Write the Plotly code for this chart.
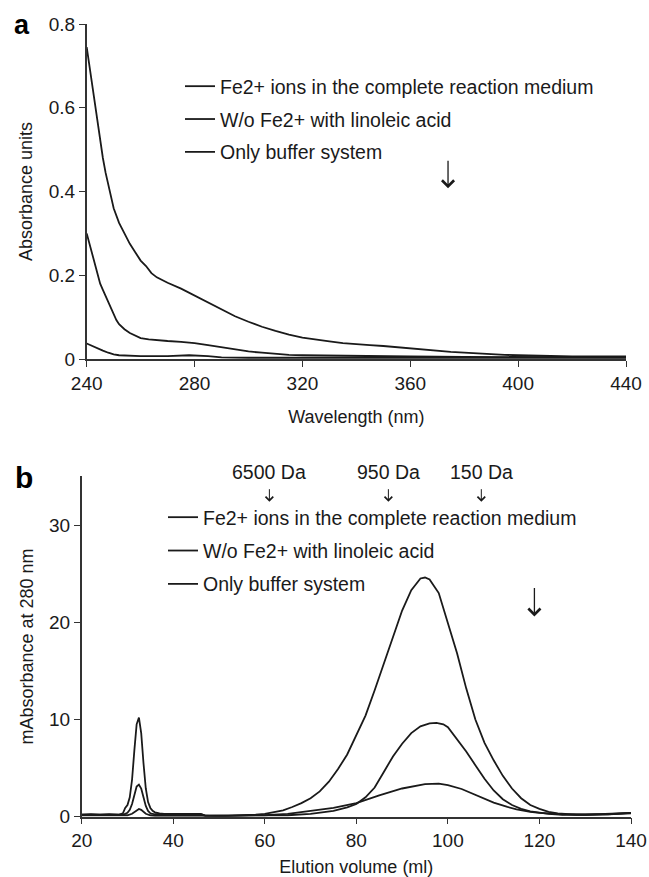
import plotly.graph_objects as go

# ---------------- Panel a data ----------------
wl_fe = [240, 241, 242, 243, 244, 245, 246, 247, 248, 250, 252, 254, 256, 258, 260, 262, 264, 266, 268, 270,
         275, 280, 285, 290, 295, 300, 305, 310, 315, 320, 325, 330, 335, 340, 345, 350, 355, 360, 365, 370,
         375, 380, 385, 390, 395, 400, 410, 420, 430, 440]
abs_fe = [0.745, 0.70, 0.655, 0.605, 0.56, 0.52, 0.48, 0.445, 0.415, 0.36, 0.325, 0.30, 0.275, 0.255, 0.235,
          0.222, 0.205, 0.195, 0.188, 0.182, 0.168, 0.152, 0.135, 0.118, 0.102, 0.089, 0.077, 0.067, 0.058,
          0.051, 0.046, 0.042, 0.038, 0.035, 0.033, 0.031, 0.028, 0.026, 0.023, 0.020, 0.017, 0.015, 0.013,
          0.011, 0.010, 0.009, 0.007, 0.006, 0.006, 0.006]

wl_la = [240, 241, 242, 243, 244, 245, 246, 247, 248, 249, 250, 251, 252, 253, 254, 256, 258, 260, 263, 266,
         270, 275, 280, 285, 290, 295, 300, 305, 310, 315, 320, 330, 340, 360, 380, 400, 420, 440]
abs_la = [0.30, 0.275, 0.25, 0.225, 0.20, 0.18, 0.165, 0.15, 0.135, 0.12, 0.105, 0.093, 0.083, 0.076, 0.071,
          0.062, 0.055, 0.050, 0.047, 0.045, 0.043, 0.041, 0.038, 0.033, 0.028, 0.022, 0.018, 0.015, 0.012,
          0.010, 0.009, 0.008, 0.007, 0.006, 0.005, 0.005, 0.004, 0.004]

wl_bu = [240, 242, 244, 246, 248, 250, 252, 255, 260, 270, 278, 285, 290, 300, 320, 340, 360, 400, 440]
abs_bu = [0.037, 0.031, 0.025, 0.020, 0.015, 0.011, 0.009, 0.008, 0.007, 0.007, 0.009, 0.007, 0.004, 0.003,
          0.003, 0.003, 0.003, 0.003, 0.003]

# ---------------- Panel b data ----------------
vol_fe = [20, 22, 24, 26, 28, 29, 29.5, 30, 30.5, 31, 31.5, 32, 32.5, 33, 33.5, 34, 34.5, 35, 35.5, 36, 37,
          38, 40, 42, 44, 46, 47, 48, 50, 52, 54, 56, 58, 60, 62, 64, 66, 68, 70, 72, 74, 76, 78, 80, 82, 84,
          86, 88, 90, 92, 94, 95, 96, 98, 100, 102, 104, 106, 108, 110, 112, 114, 116, 118, 120, 122, 124,
          126, 128, 130, 132, 134, 136, 138, 140]
mabs_fe = [0.2, 0.25, 0.2, 0.25, 0.2, 0.35, 0.9, 1.2, 2.0, 3.8, 6.8, 9.5, 10.2, 8.6, 5.5, 2.9, 1.5, 0.9, 0.6,
           0.45, 0.35, 0.3, 0.3, 0.3, 0.3, 0.3, 0.12, 0.1, 0.1, 0.1, 0.12, 0.15, 0.2, 0.3, 0.45, 0.65, 1.0,
           1.4, 1.9, 2.6, 3.6, 4.9, 6.4, 8.4, 10.4, 13.0, 15.8, 18.5, 21.2, 23.3, 24.5, 24.6, 24.4, 23.0,
           20.0, 16.8, 13.2, 10.0, 7.6, 5.8, 4.2, 2.9, 1.9, 1.2, 0.8, 0.5, 0.35, 0.25, 0.2, 0.2, 0.25, 0.25,
           0.3, 0.35, 0.4]

vol_la = [20, 24, 28, 29, 30, 30.5, 31, 31.5, 32, 32.5, 33, 33.5, 34, 34.5, 35, 36, 38, 46, 47, 60, 65, 70,
          75, 78, 80, 82, 84, 86, 88, 90, 92, 94, 96, 97.5, 99, 100, 102, 104, 106, 108, 110, 112, 114, 116,
          118, 120, 122, 125, 130, 135, 140]
mabs_la = [0.2, 0.2, 0.2, 0.2, 0.4, 0.7, 1.3, 2.3, 3.1, 3.3, 2.9, 2.0, 1.1, 0.6, 0.35, 0.25, 0.25, 0.25, 0.1,
           0.1, 0.15, 0.3, 0.6, 0.95, 1.3, 2.0, 3.0, 4.6, 6.2, 7.5, 8.6, 9.3, 9.6, 9.65, 9.5, 9.2, 8.0, 6.7,
           5.3, 3.9, 2.7, 1.8, 1.2, 0.8, 0.55, 0.4, 0.3, 0.2, 0.2, 0.25, 0.35]

vol_bu = [20, 28, 30, 31, 31.5, 32, 32.5, 33, 33.5, 34, 35, 36, 46, 50, 60, 65, 70, 75, 80, 85, 90, 95, 98,
          100, 103, 105, 108, 110, 113, 115, 118, 120, 125, 130, 135, 140]
mabs_bu = [0.15, 0.15, 0.15, 0.3, 0.5, 0.7, 0.8, 0.7, 0.5, 0.3, 0.15, 0.1, 0.1, 0.05, 0.15, 0.3, 0.6, 0.9,
           1.4, 2.2, 2.9, 3.35, 3.4, 3.25, 2.85, 2.45, 1.85, 1.45, 1.0, 0.76, 0.5, 0.4, 0.25, 0.2, 0.25, 0.4]

names = ["Fe2+ ions in the complete reaction medium",
         "W/o Fe2+ with linoleic acid",
         "Only buffer system"]

da_labels = ["6500 Da", "950 Da", "150 Da"]
da_volumes = [61.0, 87.0, 107.3]

W, H = 649, 877
FONT = "Liberation Sans, Arial, sans-serif"
INK = "#1a1a1a"
AX = "#333333"

fig = go.Figure()

series_a = [(wl_fe, abs_fe), (wl_la, abs_la), (wl_bu, abs_bu)]
series_b = [(vol_fe, mabs_fe), (vol_la, mabs_la), (vol_bu, mabs_bu)]

for i, (xs, ys) in enumerate(series_a):
    fig.add_trace(go.Scatter(x=xs, y=ys, mode="lines", name=names[i],
                             line=dict(color=INK, width=1.8),
                             xaxis="x", yaxis="y", legend="legend",
                             legendgroup="a%d" % i))
for i, (xs, ys) in enumerate(series_b):
    fig.add_trace(go.Scatter(x=xs, y=ys, mode="lines", name=names[i],
                             line=dict(color=INK, width=1.8),
                             xaxis="x2", yaxis="y2", legend="legend2",
                             legendgroup="b%d" % i))

def px_x(p):
    return p / W

def px_y(p):
    return 1 - p / H

axis_common = dict(showline=True, linecolor=AX, linewidth=1.5, ticks="outside", ticklen=6,
                   tickwidth=1.3, tickcolor=AX, showgrid=False, zeroline=False,
                   tickfont=dict(family=FONT, size=19, color=INK), automargin=False)

fig.update_layout(
    width=W, height=H,
    margin=dict(l=0, r=0, t=0, b=0),
    paper_bgcolor="white", plot_bgcolor="white",
    font=dict(family=FONT, size=19, color=INK),
    xaxis=dict(domain=[px_x(86.7), px_x(626)], range=[240, 440], tickvals=[240, 280, 320, 360, 400, 440],
               anchor="y", title=dict(text="Wavelength (nm)", font=dict(family=FONT, size=18, color=INK),
                                      standoff=18), **axis_common),
    yaxis=dict(domain=[px_y(359), px_y(24)], range=[0, 0.8], tickvals=[0, 0.2, 0.4, 0.6, 0.8],
               anchor="x", title=dict(text="Absorbance units", font=dict(family=FONT, size=18, color=INK),
                                      standoff=11), **axis_common),
    xaxis2=dict(domain=[px_x(81.7), px_x(631)], range=[20, 140], tickvals=[20, 40, 60, 80, 100, 120, 140],
                anchor="y2", title=dict(text="Elution volume (ml)", font=dict(family=FONT, size=18, color=INK),
                                        standoff=18), **axis_common),
    yaxis2=dict(domain=[px_y(816.7), px_y(476.4)], range=[0, 35], tickvals=[0, 10, 20, 30],
                anchor="x2", title=dict(text="mAbsorbance at 280 nm", font=dict(family=FONT, size=18, color=INK),
                                        standoff=11), **axis_common),
    legend=dict(x=px_x(180), y=px_y(67), xanchor="left", yanchor="top", bgcolor="rgba(0,0,0,0)",
                font=dict(family=FONT, size=19.5, color=INK), tracegroupgap=4.5, borderwidth=0),
    legend2=dict(x=px_x(163), y=px_y(498), xanchor="left", yanchor="top", bgcolor="rgba(0,0,0,0)",
                 font=dict(family=FONT, size=19.5, color=INK), tracegroupgap=5, borderwidth=0),
    showlegend=True,
)

annotations = [
    dict(text="<b>a</b>", x=px_x(12), y=px_y(25), xref="paper", yref="paper", xanchor="left",
         yanchor="middle", showarrow=False, font=dict(family=FONT, size=27, color="black")),
    dict(text="<b>b</b>", x=px_x(13), y=px_y(477), xref="paper", yref="paper", xanchor="left",
         yanchor="middle", showarrow=False, font=dict(family=FONT, size=30, color="black")),
    # big downward arrows
    dict(text="", x=374, y=0.408, xref="x", yref="y", showarrow=True, ax=0, ay=-29,
         arrowhead=4, arrowsize=1.8, arrowwidth=1.3, arrowcolor=INK),
    dict(text="", x=118.9, y=20.6, xref="x2", yref="y2", showarrow=True, ax=0, ay=-30,
         arrowhead=4, arrowsize=1.8, arrowwidth=1.3, arrowcolor=INK),
]
for lab, v in zip(da_labels, da_volumes):
    annotations.append(dict(text=lab, x=v, y=px_y(472), xref="x2", yref="paper", yanchor="middle",
                            showarrow=False, font=dict(family=FONT, size=19.5, color=INK)))
    annotations.append(dict(text="", x=v, y=32.4, xref="x2", yref="y2", showarrow=True, ax=0, ay=-14,
                            arrowhead=4, arrowsize=1.5, arrowwidth=1.0, arrowcolor=INK))
fig.update_layout(annotations=annotations)

fig.write_html("out.html", config={"displayModeBar": False},
               post_script="document.body.style.margin='0px';document.body.style.padding='0px';")
